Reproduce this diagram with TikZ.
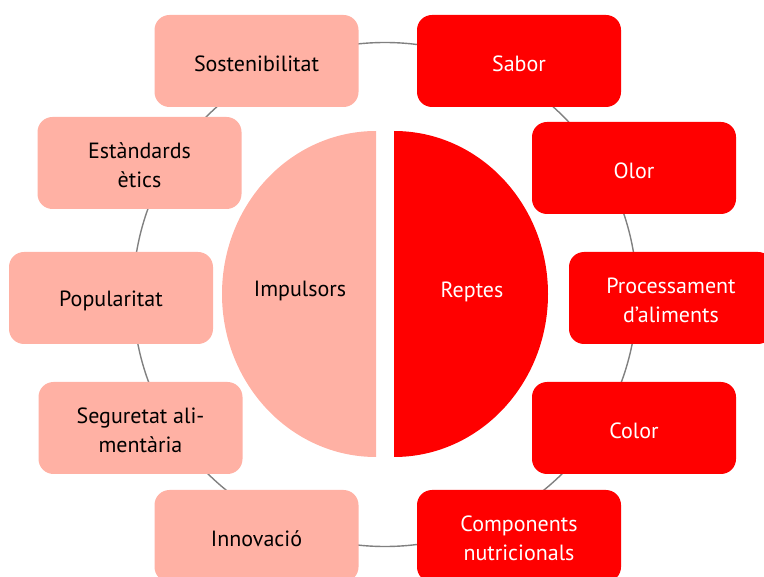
\documentclass[tikz,border=0pt]{standalone}
\usepackage{fontspec}
\setmainfont{PT Sans}
\definecolor{salmon}{RGB}{255,177,164}
\definecolor{redbox}{RGB}{255,0,0}
\definecolor{ringgray}{RGB}{128,128,128}
\begin{document}
\begin{tikzpicture}[x=1pt,y=-1pt,
  txt/.style={font=\fontsize{22}{29}\selectfont, align=center, inner sep=0pt},
  box/.style={rounded corners=15pt, minimum width=204pt, minimum height=92pt, inner sep=0pt},
  lbox/.style={box, fill=salmon, label={[txt, text=black, yshift=-2.5pt]center:#1}},
  rbox/.style={box, fill=redbox, label={[txt, text=white, yshift=-2.5pt]center:#1}},
  ring/.style={draw=ringgray, line width=1.4pt}]
\useasboundingbox (0,0) rectangle (764,577);
\coordinate (c) at (385,294.5);
\draw[ring] (c) circle[radius=252];
% half discs
\begin{scope}
  \clip (200,100) rectangle (376,490);
  \fill[salmon] (376,294) ellipse[x radius=154, y radius=163];
\end{scope}
\begin{scope}
  \clip (394,100) rectangle (600,490);
  \fill[redbox] (394,294) ellipse[x radius=154, y radius=163];
\end{scope}
\node[txt, text=black] (impulsors) at (300,291.5) {Impulsors};
\node[txt, text=white] (reptes) at (472,291.5) {Reptes};
% boxes
\node[lbox={Sostenibilitat}] (sost) at (256.5,61) {};
\node[lbox={Estàndards\\ètics}] (estand) at (139.5,163) {};
\node[lbox={Popularitat}] (popul) at (111,298) {};
\node[lbox={Seguretat ali-\\mentària}] (segur) at (140.5,428) {};
\node[lbox={Innovació}] (innov) at (256.5,536) {};
\node[rbox={Sabor}] (sabor) at (519,61) {};
\node[rbox={Olor}] (olor) at (634,168) {};
\node[rbox={Processament\\d’aliments}] (proc) at (671,298) {};
\node[rbox={Color}] (color) at (634,428) {};
\node[rbox={Components\\nutricionals}] (comp) at (519,536) {};
\end{tikzpicture}
\end{document}
